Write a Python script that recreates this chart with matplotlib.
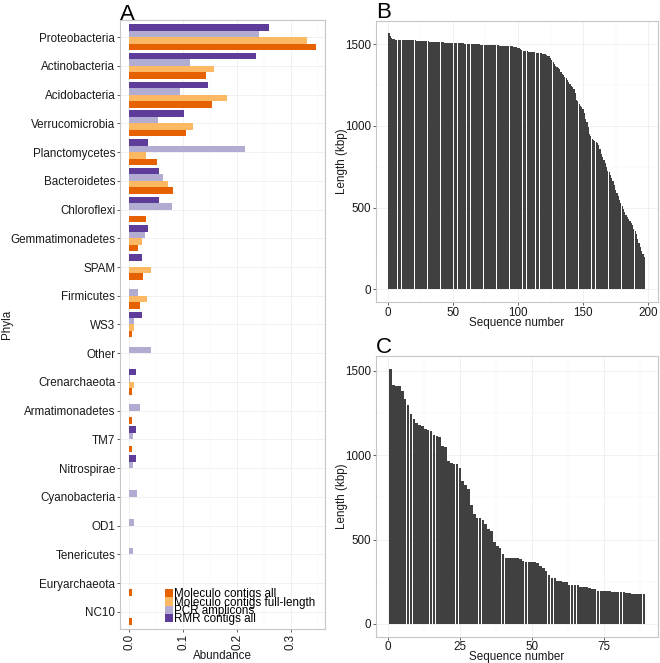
import numpy as np
import matplotlib
matplotlib.use('Agg')
import matplotlib.pyplot as plt
from matplotlib.patches import Patch

plt.rcParams['font.family'] = ['Liberation Sans', 'DejaVu Sans']

# Panel A: abundance per phylum
phyla = ['Proteobacteria', 'Actinobacteria', 'Acidobacteria', 'Verrucomicrobia',
         'Planctomycetes', 'Bacteroidetes', 'Chloroflexi', 'Gemmatimonadetes',
         'SPAM', 'Firmicutes', 'WS3', 'Other', 'Crenarchaeota', 'Armatimonadetes',
         'TM7', 'Nitrospirae', 'Cyanobacteria', 'OD1', 'Tenericutes',
         'Euryarchaeota', 'NC10']
contigs_all = [0.346, 0.142, 0.153, 0.106, 0.051, 0.081, 0.031, 0.016, 0.026, 0.020, 0.005,
               0, 0.005, 0.005, 0.005, 0, 0, 0, 0, 0.005, 0.005]
full_length = [0.330, 0.157, 0.181, 0.118, 0.031, 0.071, 0, 0.024, 0.040, 0.032, 0.008,
               0, 0.008, 0, 0, 0, 0, 0, 0, 0, 0]
pcr = [0.240, 0.112, 0.094, 0.053, 0.214, 0.062, 0.080, 0.030, 0, 0.017, 0.008,
       0.041, 0.001, 0.019, 0.007, 0.007, 0.014, 0.009, 0.006, 0, 0]
rmr = [0.259, 0.236, 0.146, 0.101, 0.034, 0.056, 0.056, 0.034, 0.023, 0, 0.023,
       0, 0.012, 0, 0.012, 0.012, 0, 0, 0, 0, 0]
series_names = ['Moleculo contigs all', 'Moleculo contigs full-length', 'PCR amplicons', 'RMR contigs all']
colors = ['#E66101', '#FDB863', '#B2ABD2', '#5E3C99']

# Panel B: sequence lengths (kbp), sorted
lengths_b = [1565, 1548, 1538, 1533, 1530,
             1528, 1527, 1527, 1526, 1526, 1525, 1525, 1525, 1524, 1524, 1524, 1523, 1523, 1523, 1522,
             1522, 1521, 1521, 1520, 1520, 1519, 1518, 1518, 1517, 1517, 1516, 1515, 1515, 1514, 1514, 1513, 1513, 1512, 1512, 1511,
             1511, 1510, 1510, 1509, 1509, 1508, 1508, 1507, 1507, 1506, 1506, 1506, 1505, 1505, 1505, 1504, 1504, 1504, 1503, 1503,
             1502, 1502, 1501, 1501, 1500, 1500, 1499, 1499, 1498, 1498, 1497, 1497, 1497, 1496, 1496, 1496, 1495, 1495, 1494, 1494,
             1494, 1493, 1493, 1492, 1492, 1491, 1491, 1490, 1490, 1489, 1489, 1488, 1488, 1487, 1487, 1486, 1485, 1484, 1482, 1479,
             1475, 1470, 1464, 1460, 1458, 1456, 1455, 1454, 1453, 1452, 1451, 1450, 1449, 1448, 1447, 1446, 1445, 1444, 1442, 1440,
             1437, 1434, 1430, 1425, 1415, 1400, 1388, 1378, 1368, 1360,
             1355, 1345, 1330, 1320, 1310, 1298, 1292, 1280, 1266, 1255,
             1245, 1235, 1228, 1200, 1158, 1150, 1135, 1120, 1112, 1105,
             1080, 1040, 1025, 990, 950, 935, 920, 912, 905, 900,
             895, 885, 860, 830, 808, 790, 770, 745, 725, 715,
             700, 680, 660, 640, 610, 590, 570, 545, 525, 510,
             490, 472, 455, 441, 430, 420, 405, 390, 370, 355,
             335, 310, 285, 260, 235, 215, 197]

# Panel C: sequence lengths (kbp), sorted
lengths_c = [1512, 1418, 1410, 1408, 1380, 1335, 1300, 1245, 1212, 1192,
             1180, 1170, 1152, 1148, 1145, 1120, 1112, 1108, 1055, 1050,
             965, 955, 950, 945, 925, 848, 822, 798, 705, 650,
             630, 625, 618, 592, 565, 550, 485, 462, 450, 412,
             393, 392, 390, 390, 389, 382, 370, 369, 368, 368,
             367, 362, 343, 333, 314, 290, 274, 272, 254, 252,
             250, 249, 232, 230, 229, 228, 221, 219, 218, 210,
             208, 206, 198, 196, 195, 194, 193, 192, 191, 190,
             189, 188, 186, 181, 180, 179, 179, 178, 178]

FS = 8.4
TXT = '#1a1a1a'


def style(ax):
    for s in ax.spines.values():
        s.set_color('#c6c6c6')
        s.set_linewidth(0.8)
    ax.tick_params(which='major', length=2.2, width=0.6, color='#444444',
                   labelsize=FS, labelcolor=TXT, pad=1.2)
    ax.tick_params(which='minor', length=0)
    ax.grid(True, which='major', color='#ebebeb', lw=0.5)
    ax.grid(True, which='minor', color='#f4f4f4', lw=0.35)
    ax.set_axisbelow(True)


fig = plt.figure(figsize=(6.6, 6.63), dpi=100)

# ---- A ----
axA = fig.add_axes([0.1818, 0.0513, 0.3106, 0.9186])
ypos = np.arange(len(phyla))
h = 0.225
offsets = [1.5, 0.5, -0.5, -1.5]
for vals, col, name, off in zip([contigs_all, full_length, pcr, rmr], colors, series_names, offsets):
    axA.barh(ypos + off * h, vals, height=h, color=col, label=name)
axA.set_ylim(len(phyla) - 0.4, -0.6)
axA.set_xlim(-0.0173, 0.3633)
axA.set_yticks(ypos)
axA.set_yticklabels(phyla)
axA.set_xticks([0, 0.1, 0.2, 0.3])
axA.set_xticklabels(['0.0', '0.1', '0.2', '0.3'], rotation=90)
axA.set_xticks([0.05, 0.15, 0.25, 0.35], minor=True)
style(axA)
axA.grid(False, which='minor', axis='y')
axA.set_xlabel('Abundance', fontsize=FS, color=TXT, labelpad=0)
axA.set_ylabel('Phyla', fontsize=FS, color=TXT, labelpad=-2)
handles = [Patch(facecolor=c, label=n) for c, n in zip(colors, series_names)]
axA.legend(handles=handles, loc='upper left', bbox_to_anchor=(0.22, 0.067),
           frameon=False, fontsize=FS, labelspacing=-0.31, handlelength=0.68,
           handleheight=0.72, handletextpad=0.12, borderpad=0, borderaxespad=0)

# ---- B ----
axB = fig.add_axes([0.5692, 0.5445, 0.4273, 0.4243])
xb = np.arange(1, len(lengths_b) + 1)
axB.bar(xb, lengths_b, width=0.9, color='#404040', linewidth=0)
axB.set_xlim(-9.3, 207.3)
axB.set_ylim(-0.05 * max(lengths_b), 1.05 * max(lengths_b))
axB.set_xticks([0, 50, 100, 150, 200])
axB.set_xticks([25, 75, 125, 175], minor=True)
axB.set_yticks([0, 500, 1000, 1500])
axB.set_yticks([250, 750, 1250], minor=True)
style(axB)
axB.set_xlabel('Sequence number', fontsize=FS, color=TXT, labelpad=-1)
axB.set_ylabel('Length (kbp)', fontsize=FS, color=TXT, labelpad=-2.5)

# ---- C ----
axC = fig.add_axes([0.5692, 0.0397, 0.4273, 0.4234])
xc = np.arange(1, len(lengths_c) + 1)
axC.bar(xc, lengths_c, width=0.9, color='#404040', linewidth=0)
axC.set_xlim(-4.25, 93.75)
axC.set_ylim(-0.05 * max(lengths_c), 1.05 * max(lengths_c))
axC.set_xticks([0, 25, 50, 75])
axC.set_xticks([12.5, 37.5, 62.5, 87.5], minor=True)
axC.set_yticks([0, 500, 1000, 1500])
axC.set_yticks([250, 750, 1250], minor=True)
style(axC)
axC.set_xlabel('Sequence number', fontsize=FS, color=TXT, labelpad=-1.5)
axC.set_ylabel('Length (kbp)', fontsize=FS, color=TXT, labelpad=-2.5)

# panel letters
for letter, x, y in [('A', 120, 19.5), ('B', 376, 18.5), ('C', 376, 353)]:
    fig.text(x / 660, 1 - y / 663, letter, fontsize=16, color='black', va='baseline', ha='left')

fig.savefig('out.png', dpi=100)
